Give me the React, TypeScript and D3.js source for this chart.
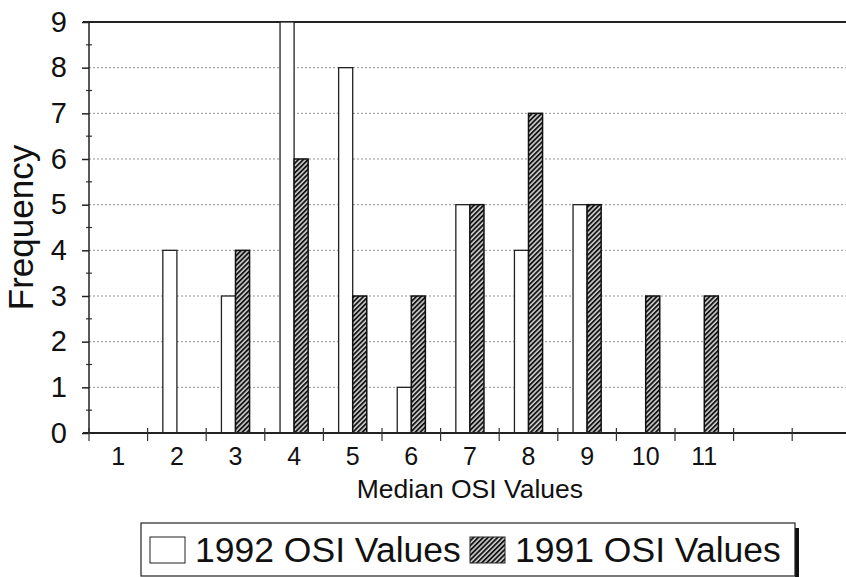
import { useEffect, useRef } from 'react';
import * as d3 from 'd3';

// median OSI values on the x axis, two empty slots follow on the right
const categories = ['1', '2', '3', '4', '5', '6', '7', '8', '9', '10', '11'];
const slotCount = 13;
const values1992 = [0, 4, 3, 9, 8, 1, 5, 4, 5, 0, 0];
const values1991 = [0, 0, 4, 6, 3, 3, 5, 7, 5, 3, 3];
const yTicks = [0, 1, 2, 3, 4, 5, 6, 7, 8, 9];
const seriesNames = ['1992 OSI Values', '1991 OSI Values'];

const FONT = "'Liberation Sans', Arial, sans-serif";

const App = () => {
  const svgRef = useRef<SVGSVGElement | null>(null);

  useEffect(() => {
    if (!svgRef.current) return;
    const svg = d3.select(svgRef.current);
    svg.selectAll('*').remove();

    const width = 846;
    const margin = { top: 22, left: 89, bottom: 433 };

    const x = d3.scaleBand<number>()
      .domain(d3.range(1, slotCount + 1))
      .range([margin.left, margin.left + slotCount * 58.6])
      .padding(0);

    const y = d3.scaleLinear()
      .domain([0, 9])
      .range([margin.bottom, margin.top]);

    const barW = x.bandwidth() * 0.24;

    // hatch pattern for the 1991 series
    const defs = svg.append('defs');
    const pat = defs.append('pattern')
      .attr('id', 'hatch')
      .attr('patternUnits', 'userSpaceOnUse')
      .attr('width', 3.4)
      .attr('height', 3.4)
      .attr('patternTransform', 'rotate(45)');
    pat.append('rect').attr('width', 3.4).attr('height', 3.4).attr('fill', '#d0d0d0');
    pat.append('line')
      .attr('x1', 0.9).attr('y1', 0).attr('x2', 0.9).attr('y2', 3.4)
      .attr('stroke', '#161616').attr('stroke-width', 1.9);

    svg.append('rect').attr('width', width).attr('height', 577).attr('fill', '#fff');

    // dotted gridlines
    svg.append('g')
      .selectAll('line')
      .data(yTicks.filter(d => d > 0 && d < 9))
      .join('line')
      .attr('x1', margin.left)
      .attr('x2', width)
      .attr('y1', d => y(d))
      .attr('y2', d => y(d))
      .attr('stroke', '#777')
      .attr('stroke-width', 0.8)
      .attr('stroke-dasharray', '2 2');

    // top border
    svg.append('line')
      .attr('x1', margin.left - 6).attr('x2', width)
      .attr('y1', y(9)).attr('y2', y(9))
      .attr('stroke', '#222').attr('stroke-width', 1.8);

    // bars
    const center = (i: number) => (x(i + 1) as number) + x.bandwidth() / 2;

    svg.append('g')
      .selectAll('rect')
      .data(values1992.map((v, i) => ({ v, i })).filter(d => d.v > 0))
      .join('rect')
      .attr('x', d => center(d.i) - barW)
      .attr('y', d => y(d.v))
      .attr('width', barW)
      .attr('height', d => y(0) - y(d.v))
      .attr('fill', '#fff')
      .attr('stroke', '#222')
      .attr('stroke-width', 1.3);

    svg.append('g')
      .selectAll('rect')
      .data(values1991.map((v, i) => ({ v, i })).filter(d => d.v > 0))
      .join('rect')
      .attr('x', d => center(d.i))
      .attr('y', d => y(d.v))
      .attr('width', barW)
      .attr('height', d => y(0) - y(d.v))
      .attr('fill', 'url(#hatch)')
      .attr('stroke', '#111')
      .attr('stroke-width', 1.5);

    // y axis
    const yAxis = svg.append('g')
      .attr('transform', `translate(${margin.left},0)`)
      .call(d3.axisLeft(y).tickValues(yTicks).tickSize(7).tickPadding(15));
    yAxis.select('.domain').remove();
    yAxis.selectAll('line').attr('stroke', '#222').attr('stroke-width', 1.5);
    yAxis.selectAll('text')
      .attr('font-family', FONT)
      .attr('font-size', 29)
      .attr('fill', '#111');

    svg.append('g')
      .selectAll('line')
      .data(d3.range(0.5, 9, 1))
      .join('line')
      .attr('x1', margin.left - 3).attr('x2', margin.left + 3)
      .attr('y1', d => y(d)).attr('y2', d => y(d))
      .attr('stroke', '#333').attr('stroke-width', 1.2);

    svg.append('line')
      .attr('x1', margin.left).attr('x2', margin.left)
      .attr('y1', y(9)).attr('y2', y(0))
      .attr('stroke', '#222').attr('stroke-width', 1.5);

    // x axis
    svg.append('line')
      .attr('x1', margin.left - 6).attr('x2', width)
      .attr('y1', y(0)).attr('y2', y(0))
      .attr('stroke', '#222').attr('stroke-width', 2);

    svg.append('g')
      .selectAll('line')
      .data(d3.range(1, slotCount + 1))
      .join('line')
      .attr('x1', d => x(d) as number)
      .attr('x2', d => x(d) as number)
      .attr('y1', y(0) - 5)
      .attr('y2', y(0) + 8)
      .attr('stroke', '#333')
      .attr('stroke-width', 1.2);

    svg.append('g')
      .selectAll('text')
      .data(categories)
      .join('text')
      .attr('x', (_, i) => center(i))
      .attr('y', y(0) + 32)
      .attr('text-anchor', 'middle')
      .attr('font-family', FONT)
      .attr('font-size', 25)
      .attr('fill', '#111')
      .text(d => d);

    // axis titles
    svg.append('text')
      .attr('x', (margin.left + margin.left + slotCount * 58.6) / 2)
      .attr('y', 498)
      .attr('text-anchor', 'middle')
      .attr('font-family', FONT)
      .attr('font-size', 26.5)
      .attr('fill', '#111')
      .text('Median OSI Values');

    svg.append('text')
      .attr('transform', `translate(33,${(y(0) + y(9)) / 2}) rotate(-90)`)
      .attr('text-anchor', 'middle')
      .attr('font-family', FONT)
      .attr('font-size', 35)
      .attr('fill', '#111')
      .text('Frequency');

    // legend
    const lg = svg.append('g');
    lg.append('rect')
      .attr('x', 795).attr('y', 528).attr('width', 4).attr('height', 60)
      .attr('fill', '#111');
    lg.append('rect')
      .attr('x', 141).attr('y', 523).attr('width', 654).attr('height', 53)
      .attr('fill', '#fff').attr('stroke', '#222').attr('stroke-width', 1.2);

    const swatchX = [150, 470];
    const textX = [195, 515];
    seriesNames.forEach((name, i) => {
      lg.append('rect')
        .attr('x', swatchX[i]).attr('y', 537)
        .attr('width', 35).attr('height', 26)
        .attr('fill', i === 0 ? '#fff' : 'url(#hatch)')
        .attr('stroke', '#222').attr('stroke-width', 1);
      lg.append('text')
        .attr('x', textX[i]).attr('y', 562)
        .attr('font-family', FONT)
        .attr('font-size', 35.5)
        .attr('fill', '#111')
        .text(name);
    });
  }, []);

  return (
    <svg
      ref={svgRef}
      width="846"
      height="577"
      style={{ position: 'absolute', left: 0, top: 0 }}
    ></svg>
  );
};

export default App;
